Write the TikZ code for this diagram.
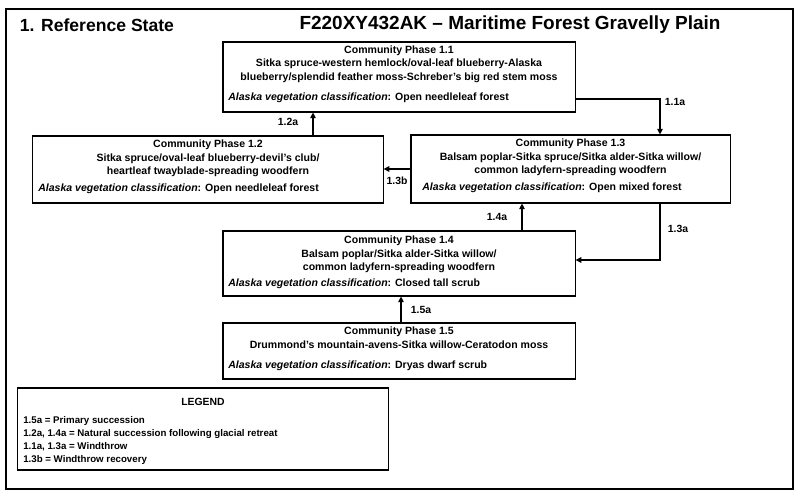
\documentclass[tikz,border=0pt]{standalone}
\usepackage{fontspec}
\setmainfont{Liberation Sans}
\usetikzlibrary{arrows.meta}
\tikzset{
  phasebox/.style={draw=black, thick, minimum width=#1, inner sep=0pt},
  phasetext/.style={font=\fontsize{7.5}{9.3}\selectfont\bfseries, align=center, anchor=north, inner sep=0pt},
  classtext/.style={font=\fontsize{7.5}{9.3}\selectfont\bfseries, anchor=west, inner sep=0pt},
  steplabel/.style={font=\fontsize{7.4}{9}\selectfont\bfseries, inner sep=1pt},
  arr/.style={-{Triangle[length=4pt,width=4pt]}, thick}
}
\begin{document}
\begin{tikzpicture}[x=0.025cm, y=-0.025cm]
        \useasboundingbox (0, 0) rectangle (800, 498);
        \fill[white] (0, 0) rectangle (800, 498);
        \draw[thick] (6, 9) rectangle (793, 489);

        \node (title) at (15, 25)[anchor=west, font=\fontsize{12.5}{14}\selectfont\bfseries] {1. Reference State};
        \node (esd) at (510, 25)[font=\fontsize{13.5}{15}\selectfont\bfseries] {F220XY432AK -- Maritime Forest Gravelly Plain};

        % community phases
        \node (p11) at (399, 77)[phasebox=352pt*0.7114, minimum height=70*0.7114pt] {};
        \node (t11) at (399, 46)[phasetext] {Community Phase 1.1\\Sitka spruce-western hemlock/oval-leaf blueberry-Alaska\\blueberry/splendid feather moss-Schreber's big red stem moss};
        \node (c11) at (228, 98)[classtext] {\textit{Alaska vegetation classification}: Open needleleaf forest};

        \node (p12) at (208, 169.5)[phasebox=350*0.7114pt, minimum height=67*0.7114pt] {};
        \node (t12) at (208, 140)[phasetext] {Community Phase 1.2\\Sitka spruce/oval-leaf blueberry-devil's club/\\heartleaf twayblade-spreading woodfern};
        \node (c12) at (38, 189)[classtext] {\textit{Alaska vegetation classification}: Open needleleaf forest};

        \node (p13) at (570.5, 169)[phasebox=319*0.7114pt, minimum height=68*0.7114pt] {};
        \node (t13) at (570.5, 139)[phasetext] {Community Phase 1.3\\Balsam poplar-Sitka spruce/Sitka alder-Sitka willow/\\common ladyfern-spreading woodfern};
        \node (c13) at (422, 188)[classtext] {\textit{Alaska vegetation classification}: Open mixed forest};

        \node (p14) at (399, 263.5)[phasebox=352*0.7114pt, minimum height=65*0.7114pt] {};
        \node (t14) at (399, 236)[phasetext] {Community Phase 1.4\\Balsam poplar/Sitka alder-Sitka willow/\\common ladyfern-spreading woodfern};
        \node (c14) at (228, 284)[classtext] {\textit{Alaska vegetation classification}: Closed tall scrub};

        \node (p15) at (399, 351)[phasebox=352*0.7114pt, minimum height=56*0.7114pt] {};
        \node (t15) at (399, 327)[phasetext] {Community Phase 1.5\\Drummond's mountain-avens-Sitka willow-Ceratodon moss};
        \node (c15) at (228, 366)[classtext] {\textit{Alaska vegetation classification}: Dryas dwarf scrub};

        % transitions
        \draw[arr] (p11.east |- 0, 99) -| (660, 0 |- p13.north);
        \node (l11a) at (675, 102)[steplabel] {1.1a};
        \draw[arr] (p12.north -| 313, 0) -- (p11.south -| 313, 0);
        \node (l12a) at (288, 122)[steplabel] {1.2a};
        \draw[arr] (p13.west |- 0, 169) -- (p12.east |- 0, 169);
        \node (l13b) at (397, 181)[steplabel] {1.3b};
        \draw[arr] (p14.north -| 522, 0) -- (p13.south -| 522, 0);
        \node (l14a) at (497, 217)[steplabel] {1.4a};
        \draw[arr] (p13.south -| 660, 0) |- (p14.east |- 0, 260);
        \node (l13a) at (678, 229)[steplabel] {1.3a};
        \draw[arr] (p15.north -| 401, 0) -- (p14.south -| 401, 0);
        \node (l15a) at (421, 310)[steplabel] {1.5a};

        % legend
        \node (legend) at (203, 429)[phasebox=370*0.7114pt, minimum height=82*0.7114pt] {};
        \node (lhead) at (203, 398)[phasetext, font=\fontsize{7.4}{9}\selectfont\bfseries] {LEGEND};
        \node (ltext) at (23, 416)[anchor=north west, inner sep=0pt, align=left, font=\fontsize{6.9}{9.3}\selectfont\bfseries] {1.5a = Primary succession\\1.2a, 1.4a = Natural succession following glacial retreat\\1.1a, 1.3a = Windthrow\\1.3b = Windthrow recovery};
    \end{tikzpicture}
\end{document}
